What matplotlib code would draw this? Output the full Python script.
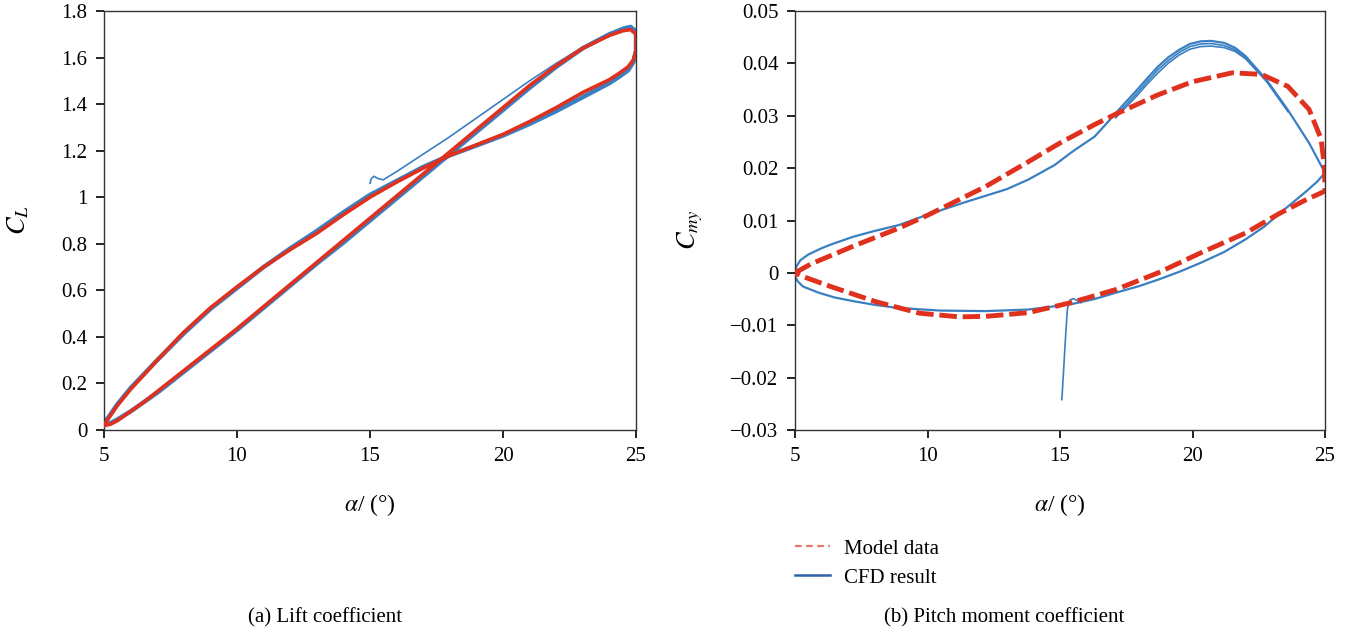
import matplotlib
matplotlib.use("Agg")
import matplotlib.pyplot as plt
from matplotlib.lines import Line2D

plt.rcParams["font.family"] = ["Liberation Serif", "DejaVu Serif"]
plt.rcParams["mathtext.fontset"] = "stix"

# ---------------- Lift coefficient (a) ----------------
alpha_up = [5.0, 5.25, 5.5, 6.0, 6.5, 7.0, 8.0, 9.0, 10.0, 11.0, 12.0, 13.0, 14.0,
            15.0, 16.0, 17.0, 18.0, 19.0, 20.0, 21.0, 22.0, 23.0, 24.0, 24.5, 24.8, 25.0]
cl_model_up = [0.02, 0.025, 0.04, 0.08, 0.12, 0.165, 0.255, 0.345, 0.435, 0.53, 0.625, 0.72,
               0.815, 0.91, 1.005, 1.10, 1.195, 1.29, 1.385, 1.48, 1.565, 1.64, 1.695, 1.715,
               1.72, 1.70]
cl_cfd_up = [0.02, 0.03, 0.045, 0.08, 0.12, 0.16, 0.25, 0.34, 0.43, 0.525, 0.62, 0.715,
             0.805, 0.90, 0.995, 1.09, 1.185, 1.28, 1.375, 1.47, 1.56, 1.64, 1.70, 1.72,
             1.73, 1.71]

alpha_down = [25.0, 25.0, 24.9, 24.7, 24.4, 24.0, 23.0, 22.0, 21.0, 20.0, 19.0, 18.0, 17.0,
              16.0, 15.0, 14.0, 13.0, 12.0, 11.0, 10.0, 9.0, 8.0, 7.0, 6.0, 5.5, 5.2, 5.0]
cl_model_down = [1.70, 1.63, 1.59, 1.56, 1.535, 1.505, 1.45, 1.385, 1.325, 1.27, 1.225, 1.18,
                 1.125, 1.065, 1.0, 0.925, 0.845, 0.775, 0.70, 0.615, 0.525, 0.42, 0.30,
                 0.175, 0.105, 0.055, 0.02]
cl_cfd_down = [1.71, 1.63, 1.58, 1.545, 1.52, 1.49, 1.43, 1.37, 1.315, 1.265, 1.222, 1.18,
               1.13, 1.07, 1.01, 0.935, 0.855, 0.78, 0.70, 0.61, 0.52, 0.415, 0.30, 0.18,
               0.11, 0.06, 0.03]

# first CFD upstroke, started at 15 deg
alpha_cfd_start = [15.0, 15.05, 15.15, 15.3, 15.5, 16.0, 17.0, 18.0, 19.0, 20.0, 21.0, 22.0,
                   23.0, 24.0, 24.5, 24.8, 25.0]
cl_cfd_start = [1.06, 1.08, 1.09, 1.08, 1.075, 1.11, 1.185, 1.26, 1.34, 1.42, 1.50, 1.575,
                1.645, 1.705, 1.73, 1.738, 1.72]

# ---------------- Pitch moment coefficient (b) ----------------
alpha_m_upper = [5.0, 5.6, 7.2, 8.9, 10.0, 12.2, 13.8, 15.0, 16.3, 17.1, 18.7, 20.0, 21.5,
                 22.6, 23.6, 24.4, 24.85, 24.98, 25.0]
cm_m_upper = [0.0, 0.0017, 0.0051, 0.0085, 0.0110, 0.0165, 0.0212, 0.0248, 0.0283, 0.0303,
              0.0340, 0.0365, 0.0382, 0.0379, 0.0356, 0.0312, 0.0256, 0.0203, 0.0156]
alpha_m_lower = [25.0, 24.3, 23.3, 22.0, 20.3, 18.7, 17.1, 15.4, 13.8, 12.2, 11.2, 9.7,
                 8.05, 6.4, 5.3, 5.0]
cm_m_lower = [0.0156, 0.0140, 0.0114, 0.0076, 0.0038, 0.0000, -0.0032, -0.0057, -0.0076,
              -0.0083, -0.0084, -0.0077, -0.0055, -0.0027, -0.0007, 0.0]

alpha_c_lower = [5.0, 5.02, 5.1, 5.3, 5.9, 6.5, 7.2, 8.0, 8.9, 10.5, 12.2, 13.8, 15.4,
                 16.3, 17.1, 18.0, 18.7, 19.5, 20.3, 21.2, 22.0, 22.7, 23.3, 23.8, 24.3,
                 24.7, 25.0]
cm_c_lower = [0.0, -0.0008, -0.0016, -0.0026, -0.0038, -0.0047, -0.0054, -0.0061, -0.0067,
              -0.0072, -0.0073, -0.0070, -0.0060, -0.0050, -0.0038, -0.0025, -0.0013,
              0.0002, 0.0019, 0.0040, 0.0064, 0.0088, 0.0114, 0.0135, 0.0156, 0.0174,
              0.0191]
alpha_c_upper = [25.0, 24.4, 23.6, 22.8, 22.0, 21.6, 21.2, 20.7, 20.3, 19.9, 19.5, 19.1,
                 18.7, 18.3, 17.9, 17.5, 17.1, 16.7, 16.3, 15.8, 15.4, 14.8, 13.8, 13.0,
                 11.3, 10.0, 8.9, 8.0, 7.2, 6.4, 6.0, 5.5, 5.2, 5.05, 5.0]
cm_c_upper = [0.0191, 0.0248, 0.0311, 0.0368, 0.0414, 0.0430, 0.0439, 0.0443, 0.0442,
              0.0437, 0.0426, 0.0412, 0.0394, 0.0372, 0.0349, 0.0327, 0.0305, 0.0282,
              0.0260, 0.0243, 0.0229, 0.0206, 0.0178, 0.0160, 0.0133, 0.0111, 0.0091,
              0.0080, 0.0069, 0.0055, 0.0047, 0.0035, 0.0024, 0.0012, 0.0]
# later CFD cycles around the moment peak
alpha_c_peak = [17.1, 17.5, 17.9, 18.3, 18.7, 19.1, 19.5, 19.9, 20.3, 20.7, 21.2, 21.6,
                22.0, 22.8, 23.6]
cm_c_peak2 = [0.0300, 0.0321, 0.0343, 0.0366, 0.0388, 0.0406, 0.0421, 0.0432, 0.0437,
              0.0438, 0.0434, 0.0426, 0.0411, 0.0366, 0.0309]
cm_c_peak3 = [0.0296, 0.0317, 0.0338, 0.0361, 0.0382, 0.0401, 0.0416, 0.0427, 0.0432,
              0.0433, 0.0430, 0.0423, 0.0409, 0.0365, 0.0308]
alpha_c_start = [15.07, 15.12, 15.2, 15.28, 15.38, 15.5, 15.62, 15.8]
cm_c_start = [-0.0242, -0.0200, -0.0130, -0.0068, -0.0052, -0.0049, -0.0052, -0.0057]

RED = "#e0301e"
BLUE = "#3a7fc2"
SPINE = "#333333"

W, H = 1362, 637
fig = plt.figure(figsize=(W / 100, H / 100), dpi=100)
ax1 = fig.add_axes([104 / W, 1 - 430 / H, 532 / W, 419 / H])
ax2 = fig.add_axes([795 / W, 1 - 430 / H, 530 / W, 419 / H])

# (a) lift loops
ax1.plot(alpha_cfd_start, cl_cfd_start, color=BLUE, lw=1.2, zorder=2)
ax1.plot(alpha_up + alpha_down, cl_cfd_up + cl_cfd_down, color=BLUE, lw=3.2, zorder=2,
         solid_joinstyle="round")
ax1.plot(alpha_up + alpha_down, cl_model_up + cl_model_down, color=RED, lw=2.6, zorder=3,
         solid_joinstyle="round")
ax1.set_xlim(5, 25)
ax1.set_ylim(0, 1.8)
ax1.set_xticks([5, 10, 15, 20, 25])
ax1.set_yticks([0, 0.2, 0.4, 0.6, 0.8, 1.0, 1.2, 1.4, 1.6, 1.8])
ax1.set_yticklabels(["0", "0.2", "0.4", "0.6", "0.8", "1", "1.2", "1.4", "1.6", "1.8"])

# (b) pitch moment loops
ax2.plot(alpha_c_start, cm_c_start, color=BLUE, lw=1.2, zorder=2)
ax2.plot(alpha_c_lower + alpha_c_upper, cm_c_lower + cm_c_upper, color=BLUE, lw=1.6,
         zorder=2, solid_joinstyle="round")
ax2.plot(alpha_c_peak, cm_c_peak2, color=BLUE, lw=1.2, zorder=2)
ax2.plot(alpha_c_peak, cm_c_peak3, color=BLUE, lw=1.2, zorder=2)
ax2.plot(alpha_m_upper + alpha_m_lower, cm_m_upper + cm_m_lower, color=RED, lw=3.5,
         dashes=(3.6, 1.2), zorder=3)
ax2.set_xlim(5, 25)
ax2.set_ylim(-0.03, 0.05)
ax2.set_xticks([5, 10, 15, 20, 25])
ax2.set_yticks([-0.03, -0.02, -0.01, 0, 0.01, 0.02, 0.03, 0.04, 0.05])
ax2.set_yticklabels(["\u22120.03", "\u22120.02", "\u22120.01", "0", "0.01", "0.02",
                     "0.03", "0.04", "0.05"])

for ax in (ax1, ax2):
    for side in ("left", "bottom", "top", "right"):
        ax.spines[side].set_color(SPINE)
        ax.spines[side].set_linewidth(1.0)
    ax.tick_params(direction="out", length=6, width=1.2, color="black",
                   labelsize=15, pad=6, top=False, right=False)

# axis titles
fig.text(18 / W, 1 - 220 / H, r"$C_L$", rotation=90, ha="center", va="center",
         fontsize=19)
fig.text(690 / W, 1 - 230 / H, r"$C_{my}$", rotation=90, ha="center", va="center",
         fontsize=19)
for xc in (370, 1060):
    fig.text(xc / W, 1 - 505 / H, r"$\alpha$/ (°)", ha="center", va="center",
             fontsize=17)

# legend below panel (b)
handles = [Line2D([], [], color="#e8766a", lw=1.6, dashes=(3, 2)),
           Line2D([], [], color="#2b5fa8", lw=1.8)]
fig.legend(handles, ["Model data", "CFD result"], loc="upper left",
           bbox_to_anchor=(795 / W, 1 - 539 / H), frameon=False, fontsize=15,
           handlelength=1.7, handletextpad=0.65, labelspacing=0.45, borderpad=0,
           borderaxespad=0)

fig.text(325 / W, 1 - 618 / H, "(a) Lift coefficient", ha="center", va="center",
         fontsize=15)
fig.text(1004 / W, 1 - 618 / H, "(b) Pitch moment coefficient", ha="center",
         va="center", fontsize=15)

fig.savefig("out.png", dpi=100)
